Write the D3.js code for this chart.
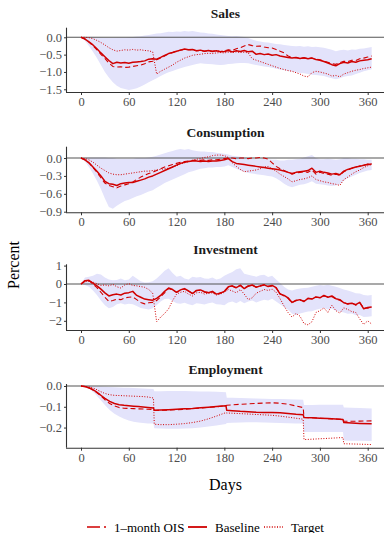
<!DOCTYPE html>
<html>
<head>
<meta charset="utf-8">
<script src="https://cdn.jsdelivr.net/npm/d3@7/dist/d3.min.js"></script>
<style>
  html, body { margin: 0; padding: 0; background: #fff; }
  svg { display: block; }
</style>
</head>
<body>
<svg id="chart" width="384" height="533"></svg>
<script>
// Daily grids (days since the shock)
const days = d3.range(0, 366, 5);
const empDays = [0,6,12,18,24,30,36,42,48,54,60,66,72,78,84,91,
  92,100,110,120,130,140,150,160,170,182,
  183,190,200,210,220,230,240,250,260,270,279,
  280,290,300,310,320,329,
  330,340,350,365];

// Panel titles and tick labels
const panelTitles = ["Sales", "Consumption", "Investment", "Employment"];
const xTicks = [0, 60, 120, 180, 240, 300, 360];
const salesTicks = [0, -0.5, -1, -1.5];
const consTicks = [0, -0.3, -0.6, -0.9];
const invTicks = [1, 0, -1, -2];
const empTicks = [0, -0.1, -0.2];
const seriesNames = ["1\u2013month OIS", "Baseline", "Target"];

// Sales
const salesBaseline = [0,-0.05,-0.13,-0.22,-0.33,-0.45,-0.56,-0.67,-0.76,-0.72,-0.74,-0.73,-0.75,-0.72,-0.71,-0.70,-0.68,-0.63,-0.62,-0.63,-0.58,-0.52,-0.47,-0.44,-0.40,-0.37,-0.34,-0.36,-0.35,-0.39,-0.37,-0.40,-0.38,-0.41,-0.39,-0.42,-0.41,-0.38,-0.42,-0.39,-0.41,-0.38,-0.42,-0.40,-0.49,-0.47,-0.50,-0.48,-0.52,-0.50,-0.54,-0.56,-0.58,-0.60,-0.58,-0.61,-0.59,-0.62,-0.60,-0.64,-0.66,-0.70,-0.74,-0.79,-0.82,-0.76,-0.72,-0.74,-0.70,-0.72,-0.68,-0.66,-0.65,-0.62];
const salesOIS = [0,-0.05,-0.14,-0.24,-0.36,-0.49,-0.61,-0.74,-0.84,-0.86,-0.85,-0.87,-0.86,-0.84,-0.82,-0.80,-0.76,-0.71,-0.69,-0.65,-0.60,-0.54,-0.48,-0.44,-0.40,-0.37,-0.35,-0.36,-0.36,-0.39,-0.38,-0.40,-0.39,-0.40,-0.38,-0.41,-0.39,-0.36,-0.38,-0.33,-0.30,-0.25,-0.21,-0.24,-0.26,-0.25,-0.28,-0.30,-0.31,-0.35,-0.40,-0.45,-0.54,-0.58,-0.59,-0.60,-0.60,-0.61,-0.60,-0.63,-0.65,-0.69,-0.72,-0.76,-0.78,-0.73,-0.69,-0.70,-0.66,-0.67,-0.62,-0.60,-0.57,-0.54];
const salesTarget = [0,0,-0.01,-0.04,-0.09,-0.15,-0.22,-0.30,-0.36,-0.40,-0.38,-0.36,-0.37,-0.35,-0.37,-0.36,-0.38,-0.39,-0.42,-1.06,-0.98,-0.92,-0.86,-0.80,-0.72,-0.66,-0.60,-0.56,-0.52,-0.50,-0.49,-0.47,-0.46,-0.47,-0.45,-0.44,-0.45,-0.43,-0.44,-0.42,-0.44,-0.43,-0.45,-0.62,-0.66,-0.70,-0.74,-0.78,-0.82,-0.86,-0.90,-0.93,-0.96,-0.98,-1.02,-1.06,-1.12,-1.14,-1.02,-0.98,-1.00,-1.03,-1.06,-1.12,-1.10,-1.14,-1.06,-1.02,-0.98,-0.95,-0.93,-0.90,-0.88,-0.86];
const salesUpper = [0,0,0,0,-0.01,-0.01,-0.02,-0.02,-0.02,-0.01,-0.01,-0.01,0,0.01,0.02,0.03,0.05,0.07,0.09,0.11,0.12,0.14,0.16,0.15,0.17,0.16,0.18,0.17,0.18,0.16,0.14,0.13,0.11,0.10,0.08,0.07,0.05,0.04,0.03,0.04,0.02,0.01,-0.02,-0.06,-0.10,-0.12,-0.14,-0.15,-0.17,-0.19,-0.20,-0.22,-0.24,-0.25,-0.26,-0.25,-0.27,-0.26,-0.28,-0.27,-0.29,-0.30,-0.33,-0.36,-0.40,-0.37,-0.36,-0.38,-0.35,-0.36,-0.33,-0.32,-0.30,-0.28];
const salesLower = [0,-0.10,-0.25,-0.42,-0.60,-0.80,-1.00,-1.16,-1.30,-1.40,-1.46,-1.49,-1.52,-1.50,-1.47,-1.42,-1.36,-1.30,-1.24,-1.18,-1.12,-1.06,-1.01,-0.97,-0.93,-0.89,-0.86,-0.83,-0.80,-0.77,-0.75,-0.76,-0.77,-0.78,-0.79,-0.80,-0.79,-0.77,-0.76,-0.75,-0.74,-0.74,-0.75,-0.78,-0.80,-0.82,-0.84,-0.86,-0.88,-0.91,-0.93,-0.95,-0.97,-0.99,-1.01,-1.03,-1.04,-1.06,-1.08,-1.09,-1.10,-1.12,-1.15,-1.18,-1.21,-1.18,-1.14,-1.12,-1.10,-1.06,-1.02,-0.98,-0.95,-0.92];

// Consumption
const consBaseline = [0,-0.03,-0.08,-0.15,-0.22,-0.30,-0.39,-0.43,-0.44,-0.46,-0.43,-0.42,-0.41,-0.41,-0.39,-0.37,-0.35,-0.32,-0.30,-0.27,-0.24,-0.21,-0.18,-0.15,-0.12,-0.09,-0.07,-0.06,-0.05,-0.05,-0.06,-0.05,-0.06,-0.05,-0.05,-0.04,-0.03,-0.01,-0.06,-0.09,-0.10,-0.11,-0.12,-0.13,-0.14,-0.15,-0.16,-0.17,-0.18,-0.19,-0.20,-0.22,-0.24,-0.26,-0.24,-0.23,-0.22,-0.21,-0.17,-0.24,-0.22,-0.24,-0.25,-0.27,-0.26,-0.28,-0.22,-0.19,-0.17,-0.15,-0.14,-0.12,-0.11,-0.10];
const consOIS = [0,-0.03,-0.08,-0.16,-0.24,-0.33,-0.42,-0.46,-0.48,-0.50,-0.47,-0.45,-0.43,-0.40,-0.36,-0.32,-0.29,-0.26,-0.24,-0.21,-0.18,-0.15,-0.13,-0.11,-0.09,-0.07,-0.06,-0.05,-0.04,-0.04,-0.04,-0.03,-0.04,-0.03,-0.03,-0.02,-0.01,0.00,0.00,-0.01,0.00,0.00,-0.01,0.00,0.00,0.01,0.00,-0.02,-0.08,-0.14,-0.18,-0.21,-0.24,-0.27,-0.25,-0.24,-0.23,-0.24,-0.20,-0.27,-0.24,-0.26,-0.27,-0.29,-0.27,-0.29,-0.23,-0.20,-0.17,-0.15,-0.13,-0.12,-0.10,-0.09];
const consTarget = [0,-0.01,-0.03,-0.07,-0.12,-0.17,-0.21,-0.25,-0.27,-0.28,-0.28,-0.27,-0.26,-0.25,-0.24,-0.23,-0.22,-0.22,-0.21,-0.20,-0.19,-0.18,-0.17,-0.15,-0.13,-0.10,-0.08,-0.06,-0.04,-0.02,-0.01,0.01,0.02,0.04,0.05,0.05,0.04,0.01,-0.08,-0.14,-0.19,-0.23,-0.22,-0.21,-0.20,-0.18,-0.15,-0.14,-0.18,-0.22,-0.27,-0.31,-0.35,-0.40,-0.38,-0.36,-0.35,-0.33,-0.30,-0.36,-0.38,-0.40,-0.41,-0.43,-0.44,-0.46,-0.36,-0.32,-0.27,-0.23,-0.20,-0.16,-0.13,-0.11];
const consUpper = [0,0,0.01,0.01,0.01,0.01,0.01,0,0,-0.01,-0.01,-0.01,-0.01,-0.01,0,0,0,0.01,0.02,0.04,0.06,0.08,0.10,0.12,0.14,0.15,0.14,0.15,0.13,0.12,0.11,0.11,0.10,0.10,0.09,0.08,0.07,0.06,0.04,0.03,0.02,0.01,0,-0.01,-0.02,-0.02,-0.01,-0.02,-0.03,-0.03,-0.04,-0.04,-0.03,-0.03,-0.02,-0.01,0.01,0.03,0.05,0,-0.02,-0.02,-0.01,-0.02,-0.03,-0.02,0,0,-0.01,-0.01,-0.02,-0.02,-0.03,-0.03];
const consLower = [0,-0.06,-0.15,-0.26,-0.38,-0.52,-0.68,-0.82,-0.85,-0.80,-0.76,-0.72,-0.70,-0.67,-0.64,-0.62,-0.59,-0.56,-0.54,-0.50,-0.46,-0.42,-0.39,-0.36,-0.33,-0.30,-0.27,-0.24,-0.22,-0.20,-0.18,-0.17,-0.16,-0.16,-0.15,-0.15,-0.14,-0.12,-0.15,-0.18,-0.21,-0.23,-0.25,-0.26,-0.27,-0.28,-0.29,-0.30,-0.31,-0.34,-0.38,-0.43,-0.47,-0.49,-0.47,-0.45,-0.44,-0.42,-0.39,-0.43,-0.44,-0.45,-0.46,-0.47,-0.46,-0.44,-0.38,-0.34,-0.31,-0.28,-0.25,-0.23,-0.21,-0.20];

// Investment
const invBaseline = [0,0.18,0.20,0.05,-0.10,-0.28,-0.48,-0.65,-0.58,-0.55,-0.60,-0.50,-0.47,-0.40,-0.62,-0.72,-0.82,-0.85,-0.88,-0.78,-0.62,-0.40,-0.22,-0.30,-0.45,-0.32,-0.25,-0.38,-0.52,-0.35,-0.32,-0.42,-0.48,-0.40,-0.55,-0.50,-0.40,-0.15,-0.10,-0.20,-0.08,-0.25,-0.12,-0.05,-0.18,-0.10,-0.05,-0.14,-0.08,-0.20,-0.55,-0.62,-0.75,-1.00,-0.90,-0.85,-0.95,-0.78,-0.82,-0.70,-0.75,-0.62,-0.72,-0.65,-0.80,-0.85,-1.02,-1.08,-1.05,-1.12,-1.00,-1.35,-1.28,-1.25];
const invOIS = [0,0.15,0.18,0.00,-0.20,-0.45,-0.72,-0.95,-0.90,-0.82,-0.85,-0.75,-0.72,-0.70,-0.85,-1.00,-1.08,-1.02,-1.00,-0.90,-0.70,-0.48,-0.25,-0.32,-0.45,-0.30,-0.27,-0.40,-0.50,-0.36,-0.34,-0.44,-0.46,-0.42,-0.56,-0.48,-0.42,-0.18,-0.12,-0.22,-0.06,-0.22,-0.10,-0.08,-0.16,-0.12,-0.03,-0.12,-0.10,-0.22,-0.52,-0.65,-0.78,-1.02,-0.88,-0.88,-0.92,-0.80,-0.80,-0.72,-0.73,-0.65,-0.70,-0.68,-0.82,-0.88,-1.00,-1.10,-1.02,-1.15,-1.02,-1.30,-1.32,-1.22];
const invTarget = [0,0.12,0.15,0.10,0.02,-0.08,-0.05,-0.10,-0.02,-0.15,-0.22,-0.05,0.02,-0.08,-0.10,-0.14,-0.18,-0.30,-0.50,-2.05,-1.80,-1.60,-1.35,-0.90,-0.55,-0.45,-0.40,-0.55,-0.65,-0.48,-0.45,-0.55,-0.50,-0.48,-0.60,-0.55,-0.45,-0.30,-0.38,-0.48,-0.30,-0.55,-0.85,-0.75,-0.50,-0.40,-0.30,-0.35,-0.28,-0.45,-0.80,-1.20,-1.55,-1.80,-1.60,-1.75,-2.15,-2.22,-2.05,-1.55,-1.45,-1.30,-1.55,-1.15,-1.45,-1.58,-1.30,-1.38,-1.50,-1.55,-1.90,-2.20,-2.00,-2.18];
const invUpper = [0,0.35,0.40,0.45,0.55,0.52,0.35,0.25,0.20,0.22,0.30,0.20,0.25,0.45,0.30,0.15,0.08,0.10,0.15,0.30,0.50,0.72,0.85,0.60,0.40,0.45,0.30,0.25,0.40,0.35,0.38,0.30,0.28,0.35,0.25,0.30,0.45,0.55,0.65,0.80,0.85,0.55,0.50,0.45,0.40,0.48,0.50,0.38,0.45,0.25,0.05,-0.15,-0.30,-0.35,-0.28,-0.25,-0.22,-0.20,-0.15,-0.10,-0.05,-0.08,-0.04,-0.10,-0.15,-0.22,-0.30,-0.35,-0.42,-0.50,-0.52,-0.60,-0.62,-0.60];
const invLower = [0,-0.05,-0.15,-0.35,-0.60,-0.90,-1.15,-1.32,-1.25,-1.10,-1.05,-1.12,-1.08,-1.10,-1.20,-1.30,-1.35,-1.38,-1.32,-1.15,-0.95,-0.82,-0.80,-0.92,-1.05,-1.08,-1.02,-1.10,-1.15,-1.05,-1.08,-1.12,-1.05,-1.00,-1.10,-1.12,-1.15,-1.00,-0.95,-1.05,-0.92,-1.05,-0.95,-0.90,-1.00,-0.92,-0.85,-0.90,-0.80,-0.95,-1.10,-1.25,-1.40,-1.62,-1.68,-1.60,-1.55,-1.50,-1.48,-1.40,-1.35,-1.30,-1.38,-1.35,-1.45,-1.50,-1.55,-1.62,-1.60,-1.70,-1.68,-1.80,-1.78,-1.75];

// Employment
const empBaseline = [0,-0.004,-0.012,-0.025,-0.042,-0.06,-0.074,-0.084,-0.09,-0.093,-0.095,-0.097,-0.099,-0.101,-0.103,-0.106,
  -0.117,-0.116,-0.114,-0.112,-0.11,-0.108,-0.105,-0.102,-0.099,-0.095,
  -0.117,-0.119,-0.122,-0.124,-0.126,-0.127,-0.128,-0.129,-0.132,-0.136,-0.138,
  -0.152,-0.153,-0.155,-0.157,-0.159,-0.161,
  -0.176,-0.178,-0.18,-0.182];
const empOIS = [0,-0.004,-0.012,-0.026,-0.045,-0.066,-0.084,-0.096,-0.104,-0.107,-0.108,-0.109,-0.11,-0.111,-0.112,-0.113,
  -0.118,-0.117,-0.116,-0.114,-0.112,-0.109,-0.106,-0.103,-0.1,-0.095,
  -0.093,-0.091,-0.088,-0.086,-0.084,-0.082,-0.081,-0.083,-0.088,-0.096,-0.104,
  -0.152,-0.153,-0.155,-0.157,-0.159,-0.16,
  -0.17,-0.17,-0.169,-0.168];
const empTarget = [0,-0.002,-0.006,-0.014,-0.026,-0.036,-0.042,-0.045,-0.046,-0.047,-0.048,-0.049,-0.05,-0.051,-0.053,-0.058,
  -0.184,-0.186,-0.186,-0.184,-0.181,-0.176,-0.169,-0.158,-0.145,-0.128,
  -0.13,-0.131,-0.133,-0.135,-0.137,-0.139,-0.141,-0.145,-0.15,-0.155,-0.16,
  -0.258,-0.256,-0.254,-0.252,-0.25,-0.248,
  -0.278,-0.279,-0.28,-0.282];
const empUpper = [0,0,-0.001,-0.002,-0.003,-0.004,-0.005,-0.006,-0.007,-0.008,-0.009,-0.01,-0.011,-0.012,-0.013,-0.014,
  -0.025,-0.025,-0.024,-0.024,-0.024,-0.025,-0.026,-0.027,-0.028,-0.03,
  -0.056,-0.057,-0.058,-0.059,-0.06,-0.061,-0.062,-0.063,-0.064,-0.065,-0.066,
  -0.092,-0.091,-0.09,-0.09,-0.09,-0.09,
  -0.104,-0.105,-0.106,-0.108];
const empLower = [0,-0.005,-0.018,-0.038,-0.065,-0.092,-0.115,-0.133,-0.147,-0.158,-0.166,-0.172,-0.176,-0.178,-0.18,-0.181,
  -0.203,-0.205,-0.206,-0.206,-0.205,-0.203,-0.2,-0.195,-0.19,-0.183,
  -0.178,-0.177,-0.176,-0.175,-0.175,-0.176,-0.177,-0.178,-0.179,-0.18,-0.18,
  -0.222,-0.222,-0.222,-0.222,-0.222,-0.222,
  -0.262,-0.263,-0.264,-0.265];

// ---- layout ----
const FONT = "'Liberation Serif', 'DejaVu Serif', serif";
const RED = "#d00000";
const BAND = "#e3e3fb";
const left = 67, right = 384;
const styles = {
  ois: { dash: "5,3", width: 1.1 },
  base: { dash: null, width: 1.5 },
  target: { dash: "1,1.6", width: 1.0 }
};

const panels = [
  { title: panelTitles[0], x: days, base: salesBaseline, ois: salesOIS, target: salesTarget, up: salesUpper, lo: salesLower,
    ticks: salesTicks, fmt: d3.format(".1f"), domain: [-1.578, 0.277], top: 27.7, bottom: 92 },
  { title: panelTitles[1], x: days, base: consBaseline, ois: consOIS, target: consTarget, up: consUpper, lo: consLower,
    ticks: consTicks, fmt: d3.format(".1f"), domain: [-0.91, 0.19], top: 146.7, bottom: 212.3 },
  { title: panelTitles[2], x: days, base: invBaseline, ois: invOIS, target: invTarget, up: invUpper, lo: invLower,
    ticks: invTicks, fmt: d3.format("d"), domain: [-2.5, 1.07], top: 264.3, bottom: 330 },
  { title: panelTitles[3], x: empDays, base: empBaseline, ois: empOIS, target: empTarget, up: empUpper, lo: empLower,
    ticks: empTicks, fmt: d3.format(".1f"), domain: [-0.297, 0.0096], top: 384, bottom: 447.7 }
];

const svg = d3.select("#chart");
const xScale = d3.scaleLinear().domain([0, 360]).range([81, 367.7]);

panels.forEach((p, pi) => {
  const y = d3.scaleLinear().domain(p.domain).range([p.bottom, p.top]);
  const g = svg.append("g");
  const clipId = "clip" + pi;
  svg.append("clipPath").attr("id", clipId).append("rect")
    .attr("x", left).attr("y", p.top).attr("width", right - left).attr("height", p.bottom - p.top);
  const plot = g.append("g").attr("clip-path", `url(#${clipId})`);

  const rows = p.x.map((d, i) => ({ d, up: p.up[i], lo: p.lo[i] }));
  plot.append("path")
    .datum(rows)
    .attr("fill", BAND)
    .attr("d", d3.area().x(r => xScale(r.d)).y0(r => y(r.lo)).y1(r => y(r.up)));

  plot.append("line")
    .attr("x1", left).attr("x2", right)
    .attr("y1", y(0)).attr("y2", y(0))
    .attr("stroke", "#555").attr("stroke-width", 1.1);

  const line = d3.line().x((v, i) => xScale(p.x[i])).y(v => y(v));
  [["target", p.target], ["ois", p.ois], ["base", p.base]].forEach(([k, vals]) => {
    plot.append("path")
      .attr("d", line(vals))
      .attr("fill", "none")
      .attr("stroke", RED)
      .attr("stroke-width", styles[k].width)
      .attr("stroke-dasharray", styles[k].dash)
      .attr("stroke-linejoin", "round");
  });

  // axes
  const yAxis = d3.axisLeft(y).tickValues(p.ticks).tickFormat(p.fmt).tickSize(3).tickPadding(2);
  const ya = g.append("g").attr("transform", `translate(${left},0)`).call(yAxis);
  ya.select(".domain").attr("d", `M-0.5,${p.top}V${p.bottom}`);
  const xAxis = d3.axisBottom(xScale).tickValues(xTicks).tickSize(3).tickPadding(2);
  const xa = g.append("g").attr("transform", `translate(0,${p.bottom})`).call(xAxis);
  xa.select(".domain").attr("d", `M${left - 1},0.5H${right}`);
  [ya, xa].forEach(a => {
    a.select(".domain").attr("stroke", "#333").attr("stroke-width", 1.1);
    a.selectAll(".tick line").attr("stroke", "#333").attr("stroke-width", 1);
    a.selectAll(".tick text").attr("fill", "#4d4d4d").style("font-family", FONT).style("font-size", "12.5px");
  });

  g.append("text")
    .attr("x", (left + right) / 2).attr("y", p.top - 10)
    .attr("text-anchor", "middle")
    .style("font-family", FONT).style("font-size", "13.5px").style("font-weight", "bold")
    .attr("fill", "#1a1a1a")
    .text(p.title);
});

// axis titles
svg.append("text")
  .attr("transform", "translate(19,265) rotate(-90)")
  .attr("text-anchor", "middle")
  .style("font-family", FONT).style("font-size", "16px")
  .text("Percent");
svg.append("text")
  .attr("x", (left + right) / 2).attr("y", 490)
  .attr("text-anchor", "middle")
  .style("font-family", FONT).style("font-size", "16px")
  .text("Days");

// legend
const legend = svg.append("g").attr("transform", "translate(0,527)");
const legendItems = [
  { name: seriesNames[0], key: "ois", x0: 87 },
  { name: seriesNames[1], key: "base", x0: 188 },
  { name: seriesNames[2], key: "target", x0: 264 }
];
legendItems.forEach(it => {
  legend.append("line")
    .attr("x1", it.x0).attr("x2", it.x0 + 19).attr("y1", 0).attr("y2", 0)
    .attr("stroke", RED).attr("stroke-width", styles[it.key].width + 0.3)
    .attr("stroke-dasharray", it.key === "ois" ? "13,4" : styles[it.key].dash);
  legend.append("text")
    .attr("x", it.x0 + 27).attr("y", 4.5)
    .style("font-family", FONT).style("font-size", "13px")
    .text(it.name);
});
</script>
</body>
</html>
